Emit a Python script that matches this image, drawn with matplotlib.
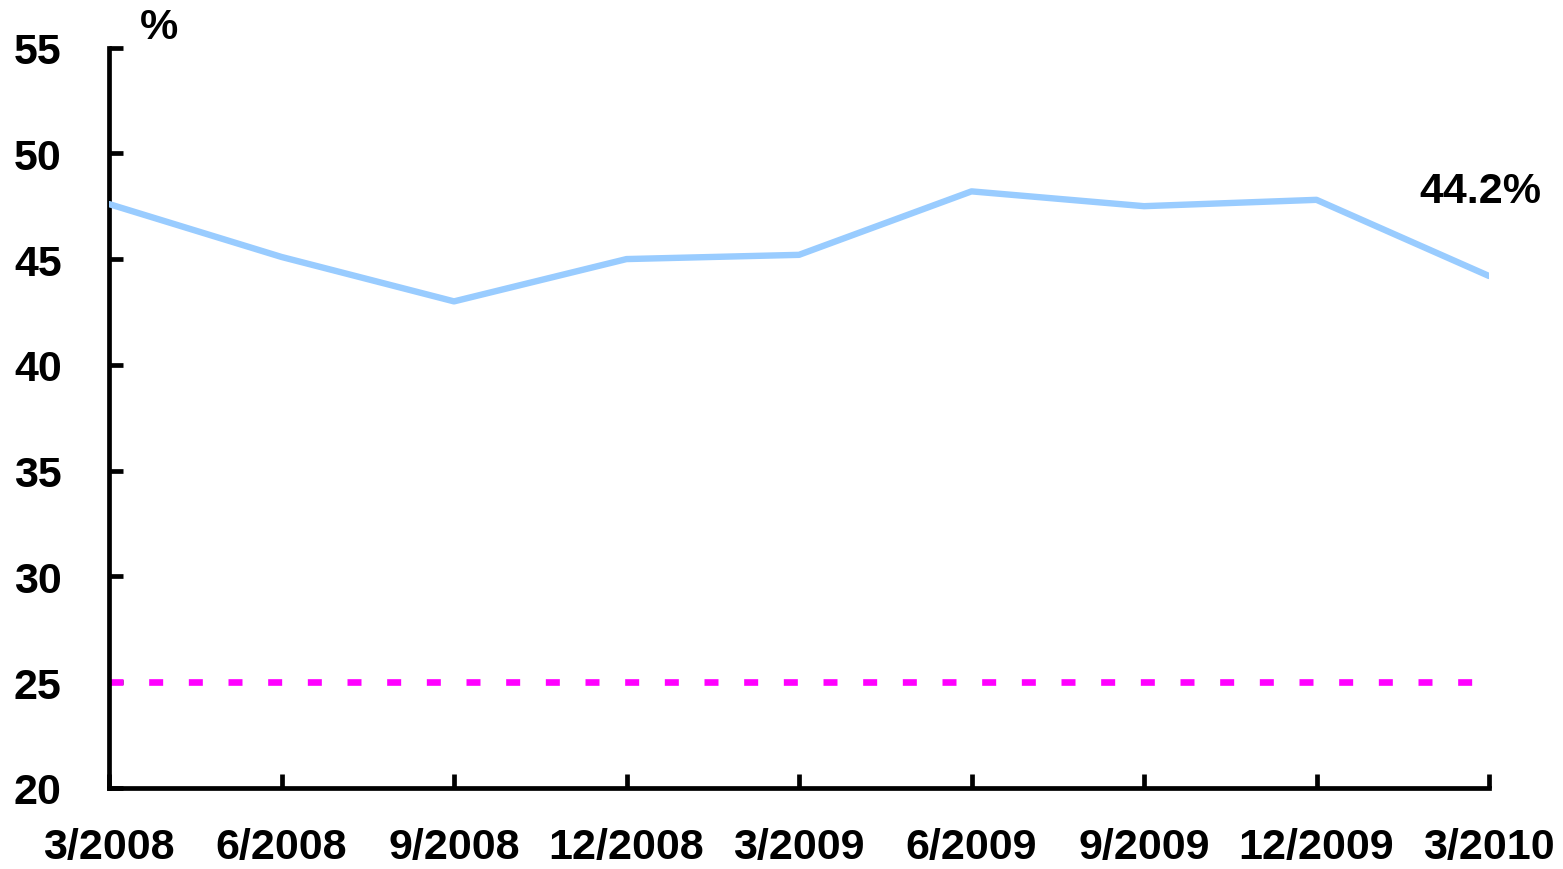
import matplotlib
matplotlib.use("Agg")
import matplotlib.pyplot as plt

# data
quarters = ["3/2008", "6/2008", "9/2008", "12/2008", "3/2009",
            "6/2009", "9/2009", "12/2009", "3/2010"]
share = [47.6, 45.1, 43.0, 45.0, 45.2, 48.2, 47.5, 47.8, 44.2]
threshold = 25
y_ticks = [20, 25, 30, 35, 40, 45, 50, 55]

plt.rcParams['font.family'] = ['Liberation Sans', 'DejaVu Sans']
plt.rcParams['font.weight'] = 'bold'

fig = plt.figure(figsize=(15.63, 8.70), dpi=100)
ax = fig.add_axes([109/1563, (870-789)/870, (1489-109)/1563, (789-48.5)/870])

x = list(range(len(quarters)))
ax.plot(x, share, color="#99CCFF", lw=4.6, solid_capstyle="round", zorder=3)
ax.plot([x[0], x[-1]], [threshold, threshold], color="#FF00FF", lw=4.8,
        dashes=(2.1, 3.85), dash_capstyle="butt", zorder=2)

ax.set_xlim(0, len(quarters) - 1)
ax.set_ylim(20, 55)
ax.set_xticks(x)
ax.set_xticklabels(quarters)
ax.set_yticks(y_ticks)

for s in ["top", "right"]:
    ax.spines[s].set_visible(False)
for s in ["left", "bottom"]:
    ax.spines[s].set_linewidth(3.4)
    ax.spines[s].set_capstyle("projecting")

ax.tick_params(axis="both", direction="in", length=10, width=3.4,
               labelsize=31)
ax.tick_params(axis="x", pad=28)
ax.tick_params(axis="y", pad=34)
for lbl in ax.get_xticklabels() + ax.get_yticklabels():
    lbl.set_fontweight("bold")

ax.text(0.036, 1.028, "%", transform=ax.transAxes, fontsize=31,
        fontweight="bold", ha="center", va="center")
ax.annotate("44.2%", xy=(x[-1], share[-1]), xytext=(-9, 85),
            textcoords="offset pixels", fontsize=31, fontweight="bold",
            ha="center", va="center", annotation_clip=False)

fig.savefig("out.png", dpi=100)
